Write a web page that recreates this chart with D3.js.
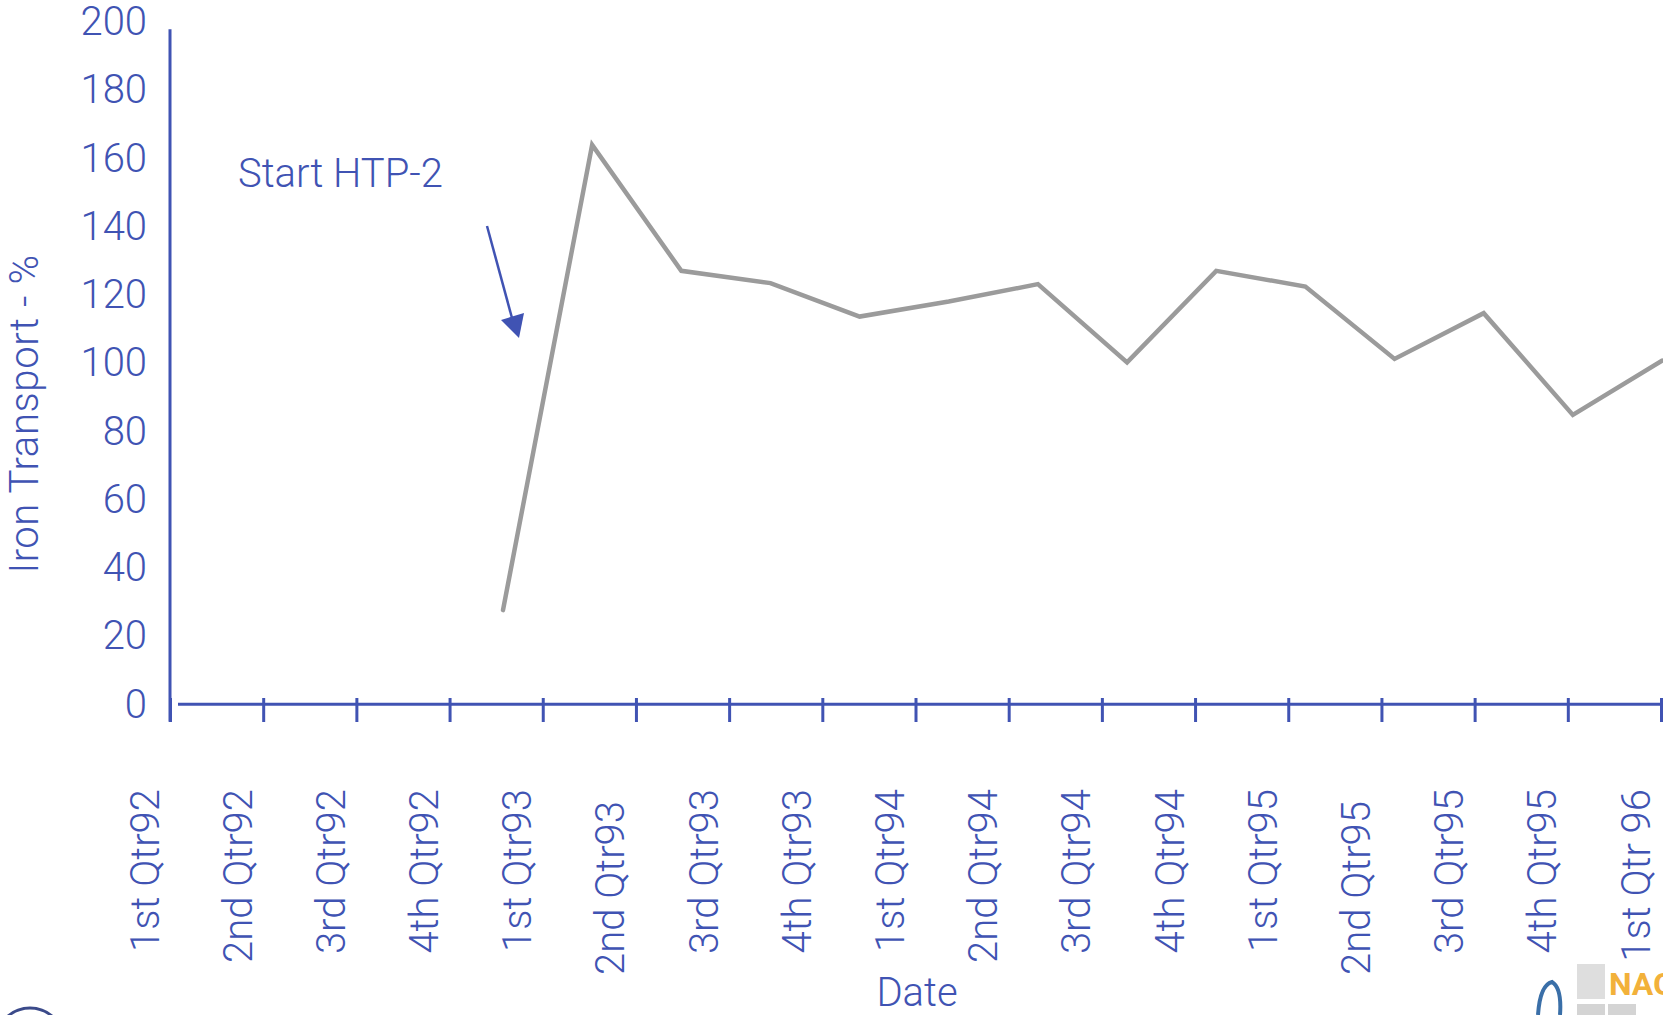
<!DOCTYPE html>
<html>
<head>
<meta charset="utf-8">
<script src="https://cdn.jsdelivr.net/npm/d3@7"></script>
<style>
  html, body { margin: 0; padding: 0; background: #ffffff; overflow: hidden; }
  svg { display: block; font-family: Roboto, "Noto Sans", sans-serif; font-weight: 300; }
</style>
</head>
<body>
<svg id="chart" width="1663" height="1015"></svg>
<script>
// ---- data ----
const categories = ["1st Qtr92", "2nd Qtr92", "3rd Qtr92", "4th Qtr92",
  "1st Qtr93", "2nd Qtr93", "3rd Qtr93", "4th Qtr93",
  "1st Qtr94", "2nd Qtr94", "3rd Qtr94", "4th Qtr94",
  "1st Qtr95", "2nd Qtr95", "3rd Qtr95", "4th Qtr95", "1st Qtr 96"];
const yTicks = [0, 20, 40, 60, 80, 100, 120, 140, 160, 180, 200];
const lineQuarters = ["Q1-93", "Q2-93", "Q3-93", "Q4-93", "Q1-94", "Q2-94", "Q3-94",
  "Q4-94", "Q1-95", "Q2-95", "Q3-95", "Q4-95", "Q1-96", "Q2-96"];
const ironTransport = [27.6, 163.9, 127.0, 123.4, 113.6, 118.0, 123.1,
  100.2, 127.0, 122.4, 101.2, 114.6, 84.8, 100.7];
const yTitle = "Iron Transport - %";
const xTitle = "Date";
const annotation = "Start HTP-2";

// ---- style ----
const BLUE = "#4053b3";
const GRAY = "#9b9b9b";
const FS = 40;

const svg = d3.select("#chart");
svg.append("rect").attr("width", 1663).attr("height", 1015).attr("fill", "#fff");

const x = d3.scalePoint().domain(categories).range([170, 1661]);
const y = d3.scaleLinear().domain([0, 200]).range([704.3, 21.7]);
const xLine = d3.scalePoint().domain(lineQuarters).range([503, 1662]);

// y axis labels
const yAxis = svg.append("g")
  .attr("transform", "translate(170,0)")
  .call(d3.axisLeft(y).tickValues(yTicks).tickSize(0).tickPadding(23));
yAxis.select(".domain").remove();
yAxis.selectAll("text")
  .attr("fill", BLUE).style("font-size", FS + "px").style("font-family", "Roboto")
  .style("font-weight", 300);

// y axis line
svg.append("line")
  .attr("x1", 170).attr("x2", 170).attr("y1", 29.3).attr("y2", 721.7)
  .attr("stroke", BLUE).attr("stroke-width", 3);

// x axis line
svg.append("line")
  .attr("x1", 178).attr("x2", 1663).attr("y1", y(0)).attr("y2", y(0))
  .attr("stroke", BLUE).attr("stroke-width", 3);

// x axis ticks + labels
const xAxis = svg.append("g")
  .attr("transform", "translate(0,698)")
  .call(d3.axisBottom(x).tickSize(24).tickSizeOuter(0));
xAxis.select(".domain").remove();
xAxis.selectAll(".tick line").attr("stroke", BLUE).attr("stroke-width", 3);
xAxis.selectAll(".tick text")
  .attr("x", 0).attr("y", 0).attr("dy", 0)
  .attr("transform", d => `translate(-12,${d.startsWith("2nd Qtr9") && d !== "2nd Qtr92" && d !== "2nd Qtr94" ? 103 : 91}) rotate(-90)`)
  .style("text-anchor", "end")
  .attr("fill", BLUE).style("font-size", FS + "px").style("font-family", "Roboto")
  .style("font-weight", 300);

// series line
const line = d3.line()
  .x((d, i) => xLine(lineQuarters[i]))
  .y(d => y(d));
svg.append("path")
  .datum(ironTransport)
  .attr("d", line)
  .attr("fill", "none")
  .attr("stroke", GRAY)
  .attr("stroke-width", 4.5)
  .attr("stroke-linecap", "round")
  .attr("stroke-linejoin", "miter");

// axis titles
svg.append("text")
  .attr("transform", "translate(38,414) rotate(-90)")
  .attr("text-anchor", "middle")
  .attr("fill", BLUE).style("font-size", FS + "px")
  .style("letter-spacing", "0.6px")
  .text(yTitle);
svg.append("text")
  .attr("x", 917).attr("y", 1006)
  .attr("text-anchor", "middle")
  .attr("fill", BLUE).style("font-size", FS + "px")
  .text(xTitle);

// annotation
svg.append("text")
  .attr("x", 238).attr("y", 187)
  .attr("fill", BLUE).style("font-size", FS + "px")
  .text(annotation);
svg.append("line")
  .attr("x1", 487).attr("y1", 226).attr("x2", 512).attr("y2", 318)
  .attr("stroke", BLUE).attr("stroke-width", 2.5);
svg.append("polygon")
  .attr("points", "501,320 524,313 519,338")
  .attr("fill", BLUE);

// logos (decorative fragments at the bottom edge)
const logo = svg.append("g");
logo.append("rect").attr("x", 1577).attr("y", 964).attr("width", 28).attr("height", 35).attr("fill", "#dedede");
logo.append("rect").attr("x", 1577).attr("y", 1004).attr("width", 28).attr("height", 20).attr("fill", "#d4d4d4");
logo.append("rect").attr("x", 1608).attr("y", 1004).attr("width", 28).attr("height", 20).attr("fill", "#d4d4d4");
logo.append("text").attr("x", 1609).attr("y", 995)
  .attr("fill", "#f2b13a").style("font-size", "32px").style("font-weight", "bold")
  .style("font-family", "Roboto").text("NAG");
logo.append("path")
  .attr("d", "M1538,1015 Q1540,985 1552,982 Q1562,988 1560,1015")
  .attr("fill", "none").attr("stroke", "#3a6fa8").attr("stroke-width", 4);
logo.append("circle").attr("cx", 30).attr("cy", 1042).attr("r", 34)
  .attr("fill", "none").attr("stroke", "#3b4a8a").attr("stroke-width", 3);
</script>
</body>
</html>
